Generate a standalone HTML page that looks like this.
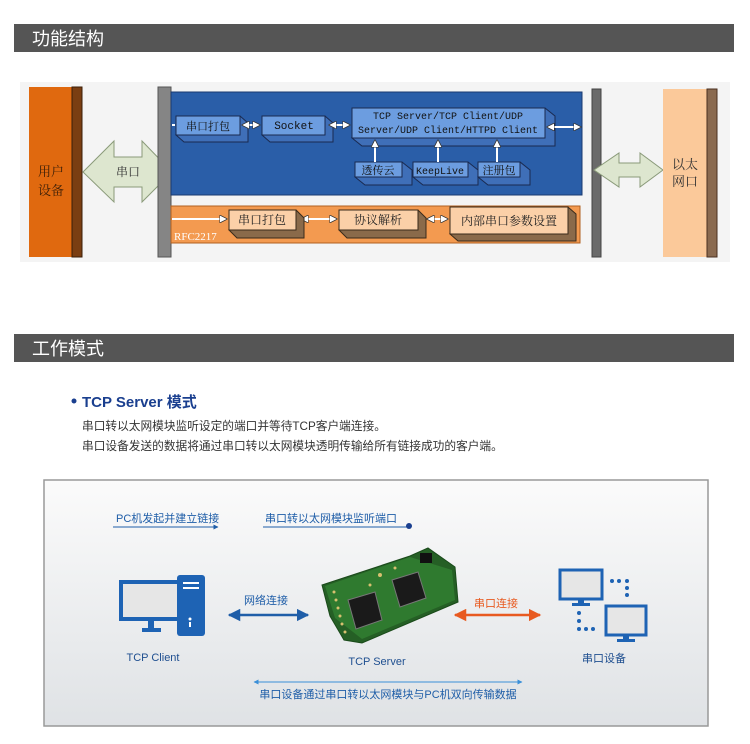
<!DOCTYPE html>
<html><head><meta charset="utf-8"><style>
html,body{margin:0;padding:0;background:#fff;}
svg{display:block;}
text{font-family:"Liberation Sans","Noto Sans CJK SC",sans-serif;}
.s{font-family:"Liberation Serif","Noto Serif CJK SC",serif;}
.m{font-family:"Liberation Mono","Noto Sans CJK SC",monospace;}
</style></head><body>
<svg width="750" height="744" viewBox="0 0 750 744" xmlns="http://www.w3.org/2000/svg">
<defs>
<linearGradient id="bg" x1="0" y1="0" x2="0" y2="1"><stop offset="0" stop-color="#fbfbfb"/><stop offset="1" stop-color="#dfe2e5"/></linearGradient>
<marker id="ab" viewBox="0 0 10 10" refX="9" refY="5" markerWidth="5" markerHeight="5" orient="auto-start-reverse"><path d="M0,0L10,5L0,10z" fill="#1f5ea8"/></marker>
<marker id="ao" viewBox="0 0 10 10" refX="9" refY="5" markerWidth="5" markerHeight="5" orient="auto-start-reverse"><path d="M0,0L10,5L0,10z" fill="#e85a20"/></marker>
<marker id="al" viewBox="0 0 10 10" refX="9" refY="5" markerWidth="5" markerHeight="5" orient="auto-start-reverse"><path d="M0,0L10,5L0,10z" fill="#3a8fd8"/></marker>
<marker id="aw" viewBox="0 0 10 10" refX="8" refY="5" markerWidth="4" markerHeight="4" orient="auto-start-reverse"><path d="M0,0L10,5L0,10z" fill="#fff" stroke="#333" stroke-width="1"/></marker>
</defs>
<rect x="14" y="24" width="720" height="28" fill="#555"/>
<text x="32" y="45" font-size="18" fill="#fff">功能结构</text>
<rect x="14" y="334" width="720" height="28" fill="#555"/>
<text x="32" y="355" font-size="18" fill="#fff">工作模式</text>

<rect x="20" y="82" width="710" height="180" fill="#f4f4f4"/>
<rect x="29" y="87" width="44" height="170" fill="#e0690f"/>
<rect x="72" y="87" width="10" height="170" fill="#7a3e12" stroke="#3a1e08" stroke-width="1"/>
<text x="51" y="176" font-size="13" text-anchor="middle" fill="#3a1e08" class="s">用户</text>
<text x="51" y="195" font-size="13" text-anchor="middle" fill="#3a1e08" class="s">设备</text>
<path d="M83,172 L114,141 L114,157 L142,157 L142,141 L172,172 L142,202 L142,187 L114,187 L114,202 Z" fill="#dde6cf" stroke="#8a9a7a" stroke-width="1"/>
<text x="128" y="176" font-size="12" text-anchor="middle" fill="#333" class="s">串口</text>
<rect x="158" y="87" width="13" height="170" fill="#858585" stroke="#555" stroke-width="1"/>
<rect x="171" y="92" width="411" height="103" fill="#2a5ea8" stroke="#1a3a70"/>
<rect x="171" y="206" width="409" height="37" fill="#f39a50" stroke="#b06020"/>
<text x="174" y="240" font-size="11" fill="#fff" class="s">RFC2217</text>
<g stroke="#1a2a50" stroke-width="1">
<path d="M176,135 l8,7 h64 v-19 l-8,-7z" fill="#3f6fb8"/>
<rect x="176" y="116" width="64" height="19" fill="#6c9de0"/>
<path d="M262,135 l8,7 h63 v-19 l-8,-7z" fill="#3f6fb8"/>
<rect x="262" y="116" width="63" height="19" fill="#6c9de0"/>
<path d="M352,138 l10,8 h193 v-30 l-10,-8z" fill="#3f6fb8"/>
<rect x="352" y="108" width="193" height="30" fill="#6c9de0"/>
<path d="M355,177 l10,8 h47 v-15 l-10,-8z" fill="#3f6fb8"/>
<rect x="355" y="162" width="47" height="15" fill="#6c9de0"/>
<path d="M413,177 l10,8 h55 v-15 l-10,-8z" fill="#3f6fb8"/>
<rect x="413" y="162" width="55" height="15" fill="#6c9de0"/>
<path d="M478,177 l10,8 h42 v-15 l-10,-8z" fill="#3f6fb8"/>
<rect x="478" y="162" width="42" height="15" fill="#6c9de0"/>
</g>
<text x="208" y="130" font-size="11" text-anchor="middle" fill="#111" class="s">串口打包</text>
<text x="294" y="129" font-size="11" text-anchor="middle" fill="#111" class="m">Socket</text>
<text x="448" y="119" font-size="10" text-anchor="middle" fill="#111" class="m">TCP Server/TCP Client/UDP</text>
<text x="448" y="133" font-size="10" text-anchor="middle" fill="#111" class="m">Server/UDP Client/HTTPD Client</text>
<text x="378" y="174" font-size="11" text-anchor="middle" fill="#111" class="s">透传云</text>
<text x="440" y="174" font-size="10" text-anchor="middle" fill="#111" class="m">KeepLive</text>
<text x="499" y="174" font-size="11" text-anchor="middle" fill="#111" class="s">注册包</text>
<g stroke="#fff" stroke-width="2" fill="none">
<line x1="172" y1="125" x2="175" y2="125"/>
<line x1="243" y1="125" x2="259" y2="125" marker-start="url(#aw)" marker-end="url(#aw)"/>
<line x1="330" y1="125" x2="349" y2="125" marker-start="url(#aw)" marker-end="url(#aw)"/>
<line x1="548" y1="127" x2="580" y2="127" marker-start="url(#aw)" marker-end="url(#aw)"/>
<line x1="375" y1="162" x2="375" y2="141" marker-end="url(#aw)"/>
<line x1="438" y1="162" x2="438" y2="141" marker-end="url(#aw)"/>
<line x1="497" y1="162" x2="497" y2="141" marker-end="url(#aw)"/>
<line x1="172" y1="219" x2="226" y2="219" marker-end="url(#aw)"/>
<line x1="302" y1="219" x2="336" y2="219" marker-start="url(#aw)" marker-end="url(#aw)"/>
<line x1="428" y1="219" x2="447" y2="219" marker-start="url(#aw)" marker-end="url(#aw)"/>
</g>
<g stroke="#3a2a1a" stroke-width="1">
<path d="M229,230 l8,8 h67 v-20 l-8,-8z" fill="#8a6a4a"/>
<rect x="229" y="210" width="67" height="20" fill="#fbd0a8"/>
<path d="M339,230 l8,8 h79 v-20 l-8,-8z" fill="#8a6a4a"/>
<rect x="339" y="210" width="79" height="20" fill="#fbd0a8"/>
<path d="M450,234 l8,7 h118 v-27 l-8,-7z" fill="#8a6a4a"/>
<rect x="450" y="207" width="118" height="27" fill="#fbd0a8"/>
</g>
<text x="262" y="224" font-size="12" text-anchor="middle" fill="#222" class="s">串口打包</text>
<text x="378" y="224" font-size="12" text-anchor="middle" fill="#222" class="s">协议解析</text>
<text x="509" y="225" font-size="12" text-anchor="middle" fill="#222" class="s">内部串口参数设置</text>
<rect x="592" y="89" width="9" height="168" fill="#6a6a6a" stroke="#444"/>
<path d="M594,170 L619,153 L619,163 L640,163 L640,153 L663,170 L640,187 L640,177 L619,177 L619,187 Z" fill="#dde6cf" stroke="#8a9a7a"/>
<rect x="663" y="89" width="45" height="168" fill="#fbc99a"/>
<rect x="707" y="89" width="10" height="168" fill="#8a6a50" stroke="#4a3020"/>
<text x="685" y="169" font-size="13" text-anchor="middle" fill="#333" class="s">以太</text>
<text x="685" y="186" font-size="13" text-anchor="middle" fill="#333" class="s">网口</text>

<circle cx="74" cy="401" r="2.5" fill="#1a3f8f"/>
<text x="82" y="407" font-size="15" font-weight="bold" fill="#1a3f8f">TCP Server 模式</text>
<text x="82" y="430" font-size="11.7" fill="#333">串口转以太网模块监听设定的端口并等待TCP客户端连接。</text>
<text x="82" y="450" font-size="11.7" fill="#333">串口设备发送的数据将通过串口转以太网模块透明传输给所有链接成功的客户端。</text>

<rect x="44" y="480" width="664" height="246" fill="url(#bg)" stroke="#999" stroke-width="1.5"/>
<text x="116" y="522" font-size="11" fill="#1f5ea8">PC机发起并建立链接</text>
<line x1="113" y1="527" x2="218" y2="527" stroke="#1f5ea8" stroke-width="1" marker-end="url(#ab)"/>
<text x="265" y="522" font-size="11" fill="#1f5ea8">串口转以太网模块监听端口</text>
<line x1="263" y1="527" x2="408" y2="527" stroke="#1f5ea8" stroke-width="1"/>
<circle cx="409" cy="526" r="3" fill="#1a3f8f"/>
<rect x="121" y="582" width="60" height="37" fill="#e6e6e6" stroke="#1e63b4" stroke-width="4"/>
<rect x="177" y="575" width="28" height="61" rx="3" fill="#1e63b4"/>
<rect x="183" y="582" width="16" height="2" fill="#fff"/><rect x="183" y="587" width="16" height="2" fill="#fff"/>
<circle cx="190" cy="619" r="1.5" fill="#fff"/><rect x="189" y="622" width="2" height="5" fill="#fff"/>
<rect x="148" y="621" width="6" height="8" fill="#1e63b4"/><rect x="142" y="628" width="19" height="4" fill="#1e63b4"/>
<text x="153" y="661" font-size="11" text-anchor="middle" fill="#1f4f90">TCP Client</text>
<text x="266" y="604" font-size="11" text-anchor="middle" fill="#1f5ea8">网络连接</text>
<line x1="229" y1="615" x2="308" y2="615" stroke="#1f5ea8" stroke-width="2.5" marker-start="url(#ab)" marker-end="url(#ab)"/>
<text x="496" y="607" font-size="11" text-anchor="middle" fill="#e85a20">串口连接</text>
<line x1="455" y1="615" x2="540" y2="615" stroke="#e85a20" stroke-width="2.5" marker-start="url(#ao)" marker-end="url(#ao)"/>
<polygon points="322,585 410,556 428,548 455,567 458,602 362,643 344,640 330,616" fill="#255f25" stroke="#1a4a1a"/>
<polygon points="325,586 410,557 452,570 455,600 362,639 335,618" fill="#2f7a2f"/>
<polygon points="348,600 375,592 382,620 356,629" fill="#1a1a1a" stroke="#777"/>
<polygon points="392,580 418,572 426,598 400,607" fill="#1a1a1a" stroke="#777"/>
<rect x="420" y="553" width="12" height="10" fill="#111"/>
<g fill="#d8c070"><circle cx="334" cy="592" r="1.5"/><circle cx="336" cy="600" r="1.5"/><circle cx="338" cy="608" r="1.5"/><circle cx="340" cy="616" r="1.5"/><circle cx="342" cy="624" r="1.5"/><circle cx="345" cy="632" r="1.5"/><circle cx="380" cy="575" r="2"/><circle cx="395" cy="568" r="1.5"/><circle cx="370" cy="585" r="1.5"/></g>
<text x="377" y="665" font-size="11" text-anchor="middle" fill="#1f4f90">TCP Server</text>
<rect x="560" y="570" width="42" height="29" fill="#e6e6e6" stroke="#1e63b4" stroke-width="3"/>
<rect x="578" y="600" width="6" height="4" fill="#1e63b4"/><rect x="572" y="603" width="18" height="3" fill="#1e63b4"/>
<rect x="606" y="606" width="40" height="29" fill="#e6e6e6" stroke="#1e63b4" stroke-width="3"/>
<rect x="623" y="636" width="6" height="4" fill="#1e63b4"/><rect x="617" y="639" width="18" height="3" fill="#1e63b4"/>
<g fill="#1e63b4"><circle cx="612" cy="581" r="2"/><circle cx="619" cy="581" r="2"/><circle cx="627" cy="581" r="2"/><circle cx="627" cy="588" r="2"/><circle cx="627" cy="595" r="2"/>
<circle cx="579" cy="613" r="2"/><circle cx="579" cy="621" r="2"/><circle cx="579" cy="629" r="2"/><circle cx="586" cy="629" r="2"/><circle cx="593" cy="629" r="2"/></g>
<text x="604" y="662" font-size="11" text-anchor="middle" fill="#1f4f90">串口设备</text>
<line x1="254" y1="682" x2="522" y2="682" stroke="#3a8fd8" stroke-width="1" marker-start="url(#al)" marker-end="url(#al)"/>
<text x="388" y="698" font-size="11" text-anchor="middle" fill="#1f5ea8">串口设备通过串口转以太网模块与PC机双向传输数据</text>
</svg>
</body></html>
